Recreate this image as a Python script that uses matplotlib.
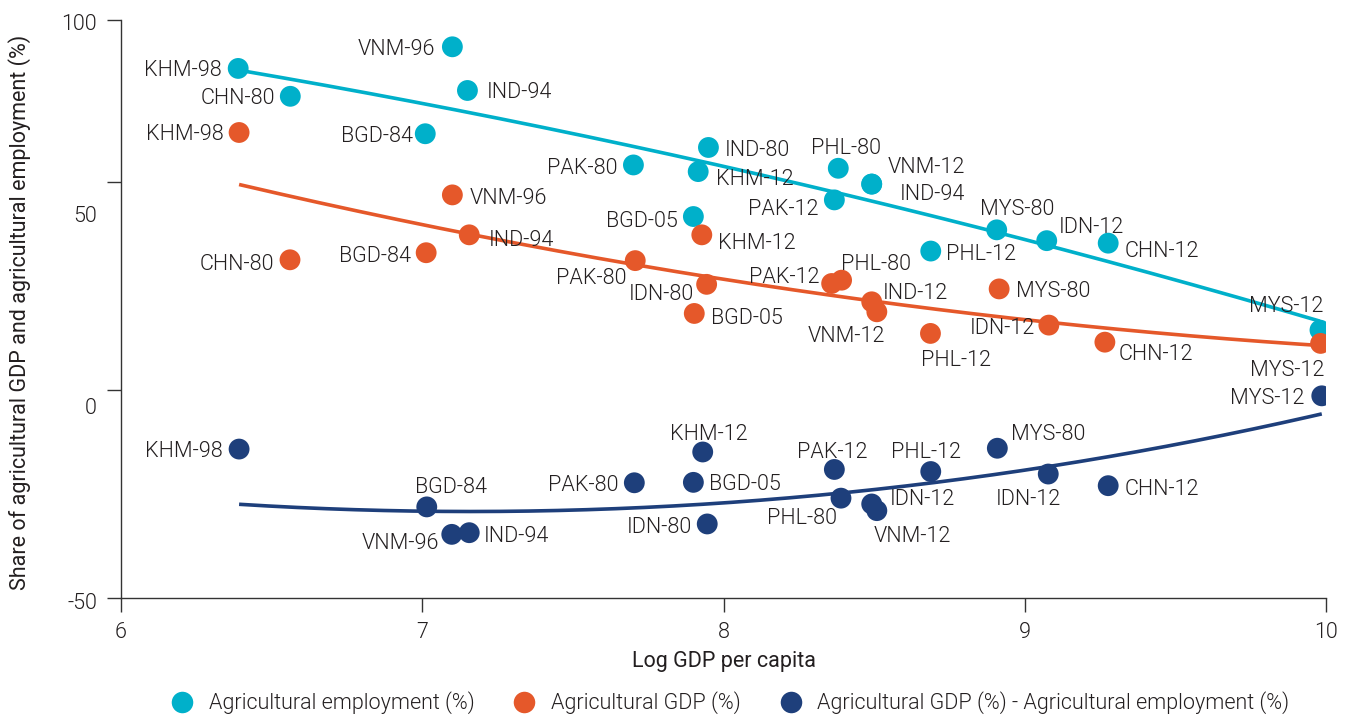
import numpy as np
import matplotlib
matplotlib.use('Agg')
import matplotlib.pyplot as plt
from matplotlib.lines import Line2D

plt.rcParams['font.family'] = ['Roboto', 'DejaVu Sans']
plt.rcParams['font.weight'] = 300

# ---------------- data ----------------
emp_labels = ['KHM-98', 'CHN-80', 'VNM-96', 'IND-94', 'BGD-84', 'PAK-80', 'IND-80', 'KHM-12', 'PHL-80',
              'VNM-12', 'IND-94', 'PAK-12', 'BGD-05', 'PHL-12', 'MYS-80', 'IDN-12', 'CHN-12', 'MYS-12']
emp_x = [6.389, 6.562, 7.100, 7.150, 7.010, 7.701, 7.950, 7.916, 8.381,
         8.492, 8.492, 8.368, 7.900, 8.688, 8.907, 9.073, 9.277, 9.980]
emp_y = [77.3, 70.6, 82.5, 72.0, 61.6, 54.1, 58.3, 52.5, 53.3,
         49.5, 49.5, 45.7, 41.7, 33.4, 38.5, 35.9, 35.3, 14.4]

gdp_labels = ['KHM-98', 'CHN-80', 'VNM-96', 'IND-94', 'BGD-84', 'PAK-80', 'KHM-12', 'IDN-80', 'BGD-05',
              'PAK-12', 'PHL-80', 'IND-12', 'VNM-12', 'PHL-12', 'MYS-80', 'IDN-12', 'CHN-12', 'MYS-12']
gdp_x = [6.392, 6.561, 7.100, 7.156, 7.013, 7.707, 7.928, 7.944, 7.903,
         8.359, 8.392, 8.492, 8.509, 8.687, 8.915, 9.080, 9.266, 9.982]
gdp_y = [61.9, 31.3, 46.9, 37.3, 33.0, 31.1, 37.3, 25.4, 18.4,
         25.6, 26.4, 21.2, 18.8, 13.6, 24.3, 15.6, 11.5, 11.2]

diff_labels = ['KHM-98', 'BGD-84', 'VNM-96', 'IND-94', 'PAK-80', 'KHM-12', 'BGD-05', 'IDN-80', 'PAK-12',
               'PHL-80', 'IDN-12', 'VNM-12', 'PHL-12', 'MYS-80', 'IDN-12', 'CHN-12', 'MYS-12']
diff_x = [6.392, 7.015, 7.098, 7.156, 7.704, 7.931, 7.900, 7.946, 8.368,
          8.390, 8.492, 8.509, 8.688, 8.909, 9.078, 9.277, 9.986]
diff_y = [-14.2, -28.1, -34.7, -34.3, -22.3, -14.9, -22.2, -32.2, -19.1,
          -26.0, -27.4, -29.0, -19.6, -14.0, -20.2, -23.0, -1.4]

series_names = ['Agricultural employment (%)', 'Agricultural GDP (%)',
                'Agricultural GDP (%) - Agricultural employment (%)']

xticks = [6, 7, 8, 9, 10]
ytick_labels = ['-50', '0', '50', '100']

# ---------------- layout / style ----------------
C_EMP = '#00b0ca'
C_GDP = '#e5582a'
C_DIF = '#1e3f7b'
TXT = '#231f20'
AX = '#333333'
FS = 15.5

# label placement (dx px, dy px downward, ha)
emp_place = [(-16, 0, 'right'), (-15, 0, 'right'), (-17, 0, 'right'), (19, 0, 'left'), (-12, 0, 'right'),
             (-16, 1, 'right'), (16, 1, 'left'), (18, 5, 'left'), (8, -22, 'center'),
             (16, -19, 'left'), (28, 8, 'left'), (-16, 7, 'right'), (-16, 2, 'right'), (15, 1, 'left'),
             (20, -23, 'center'), (12, -16, 'left'), (16, 6, 'left'), (-34, -26, 'center')]
gdp_place = [(-15, 0, 'right'), (-16, 2, 'right'), (17, 1, 'left'), (20, 3, 'left'), (-15, 1, 'right'),
             (-9, 15, 'right'), (16, 6, 'left'), (-13, 8, 'right'), (17, 3, 'left'),
             (-12, -9, 'right'), (34, -18, 'center'), (11, -11, 'left'), (-30, 22, 'center'),
             (26, 25, 'center'), (17, 0, 'left'), (-14, 1, 'right'), (14, 10, 'left'), (-33, 25, 'center')]
diff_place = [(-16, 0, 'right'), (24, -22, 'center'), (-13, 7, 'right'), (15, 1, 'left'), (-16, 0, 'right'),
              (6, -20, 'center'), (16, 0, 'left'), (-15, 1, 'right'), (-2, -19, 'center'),
              (-4, 18, 'right'), (18, -7, 'left'), (36, 23, 'center'), (-5, -22, 'center'),
              (14, -16, 'left'), (-20, 23, 'center'), (16, 1, 'left'), (-17, 0, 'right')]

W, H = 1349, 718
fig = plt.figure(figsize=(W / 100, H / 100), dpi=100)
ax = fig.add_axes([121 / W, 1 - 598 / H, (1326 - 121) / W, (598 - 20) / H])

y_top = (390 - 20) / 4.16
ax.set_xlim(6, 10)
ax.set_ylim(-50, y_top)

# quadratic trends; the gap trend is the difference of the two share trends
emp_coef = np.polyfit(emp_x, emp_y, 2)
gdp_coef = np.polyfit(gdp_x, gdp_y, 2)
diff_coef = gdp_coef - emp_coef

series = [
    (emp_x, emp_y, emp_labels, emp_place, C_EMP, emp_coef),
    (gdp_x, gdp_y, gdp_labels, gdp_place, C_GDP, gdp_coef),
    (diff_x, diff_y, diff_labels, diff_place, C_DIF, diff_coef),
]

for xs, ys, labs, place, col, coef in series:
    xs = np.asarray(xs)
    ys = np.asarray(ys)
    xx = np.linspace(xs.min(), xs.max(), 300)
    ax.plot(xx, np.polyval(coef, xx), color=col, lw=2.6, zorder=2, solid_capstyle='butt')
    ax.scatter(xs, ys, s=225, color=col, edgecolors='none', zorder=3)
    for x, y, lab, (dx, dy, ha) in zip(xs, ys, labs, place):
        ax.annotate(lab, xy=(x, y), xytext=(dx, -dy), textcoords='offset pixels',
                    ha=ha, va='center_baseline', fontsize=FS, color=TXT, zorder=4)

# axes styling
for s in ['top', 'right']:
    ax.spines[s].set_visible(False)
for s in ['left', 'bottom']:
    ax.spines[s].set_color(AX)
    ax.spines[s].set_linewidth(1.0)

ax.set_xticks(xticks)
ax.set_xticklabels([str(t) for t in xticks])
ax.tick_params(axis='x', direction='out', length=10, width=1.0, color=AX, pad=7,
               labelsize=FS, labelcolor=TXT)

ax.set_yticks([-50, 0, 50, y_top])
ax.tick_params(axis='y', direction='out', length=10, width=1.0, color=AX, labelleft=False)
ytick_label_pos = [(390 - 600.7) / 4.16, (390 - 405.7) / 4.16, (390 - 214) / 4.16, (390 - 21.7) / 4.16]
for lab, pos in zip(ytick_labels, ytick_label_pos):
    ax.annotate(lab, xy=(0, pos), xycoords=ax.get_yaxis_transform(), xytext=(-24, 0),
                textcoords='offset pixels', ha='right', va='center_baseline', fontsize=FS,
                color=TXT, annotation_clip=False)

ax.set_xlabel('Log GDP per capita', fontsize=FS, color=TXT)
ax.xaxis.label.set_va('center')
ax.xaxis.set_label_coords(0.5, (598 - 661) / 578)
ax.set_ylabel('Share of agricultural GDP and agricultural employment (%)', fontsize=FS, color=TXT)
ax.yaxis.label.set_va('center')
ax.yaxis.set_label_coords((20 - 121) / 1205, (598 - 312) / 578)

handles = [Line2D([], [], marker='o', linestyle='none', markersize=15.5, color=c, markeredgewidth=0)
           for c in (C_EMP, C_GDP, C_DIF)]
leg = fig.legend(handles, series_names, loc='center', bbox_to_anchor=(730.5 / W, 1 - 703 / H),
                 ncol=3, frameon=False, handlelength=1.0, handletextpad=0.75, columnspacing=1.8,
                 borderpad=0, fontsize=FS)
for t in leg.get_texts():
    t.set_color(TXT)

fig.savefig('out.png', dpi=100, facecolor='white')
